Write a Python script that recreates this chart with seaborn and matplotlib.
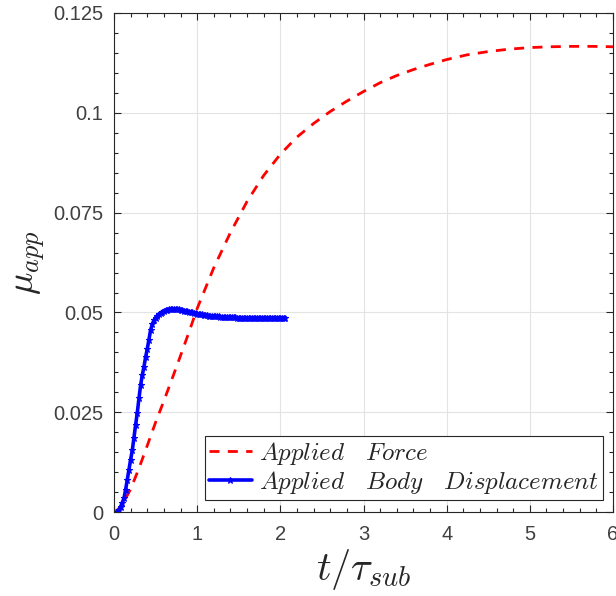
import numpy as np
import pandas as pd
import matplotlib
matplotlib.use("Agg")
import matplotlib.pyplot as plt
from matplotlib.ticker import MultipleLocator
import seaborn as sns

# --- Dados ---
# Força aplicada (linha tracejada vermelha)
t_force = [0.0, 0.05, 0.1, 0.2, 0.3, 0.4, 0.5, 0.6, 0.7, 0.8, 0.9, 1.0,
           1.2, 1.4, 1.6, 1.8, 2.0, 2.2, 2.4, 2.6, 2.8, 3.0, 3.2, 3.4,
           3.6, 3.8, 4.0, 4.25, 4.5, 4.75, 5.0, 5.25, 5.5, 5.75, 6.0]
mu_force = [0.0, 0.0008, 0.0019, 0.0058, 0.0110, 0.0167, 0.0225, 0.0279,
            0.0335, 0.0392, 0.0450, 0.0510, 0.0612, 0.0700, 0.0778,
            0.0843, 0.0896, 0.0939, 0.0973, 0.1003, 0.1029, 0.1053,
            0.1075, 0.1093, 0.1108, 0.1121, 0.1133, 0.1145, 0.1153,
            0.1159, 0.1163, 0.1165, 0.1166, 0.1166, 0.1165]

# Deslocamento aplicado ao corpo (linha azul com marcadores), passo 0.02
t_disp = np.round(np.arange(0.04, 2.061, 0.02), 2)
mu_disp = [0.0000, 0.0005, 0.0014, 0.0024, 0.0035, 0.0057, 0.0082, 0.0107,
           0.0132, 0.0155, 0.0187, 0.0219, 0.0249, 0.0285, 0.0318, 0.0343,
           0.0364, 0.0388, 0.0409, 0.0432, 0.0456, 0.0470, 0.0480, 0.0487,
           0.0492, 0.0496, 0.0499, 0.0502, 0.0504, 0.0506, 0.0507, 0.0508,
           0.0508, 0.0509, 0.0509, 0.0509, 0.0508, 0.0508, 0.0507, 0.0506,
           0.0505, 0.0504, 0.0503, 0.0502, 0.0501, 0.0500, 0.0499, 0.0498,
           0.0497, 0.0496, 0.0495, 0.0495, 0.0494, 0.0493, 0.0493, 0.0492,
           0.0492, 0.0491, 0.0491, 0.0490, 0.0490, 0.0490, 0.0489, 0.0489,
           0.0489, 0.0489, 0.0488, 0.0488, 0.0488, 0.0488, 0.0488, 0.0488,
           0.0487, 0.0487, 0.0487, 0.0487, 0.0487, 0.0487, 0.0487, 0.0487,
           0.0487, 0.0487, 0.0487, 0.0487, 0.0487, 0.0487, 0.0487, 0.0487,
           0.0487, 0.0487, 0.0487, 0.0487, 0.0487, 0.0487, 0.0487, 0.0487,
           0.0487, 0.0487, 0.0487, 0.0487, 0.0487, 0.0487]

x_ticks = [0, 1, 2, 3, 4, 5, 6]
y_ticks = [0, 0.025, 0.05, 0.075, 0.1, 0.125]
y_tick_labels = ["0", "0.025", "0.05", "0.075", "0.1", "0.125"]

label_force = r"$Applied\quad Force$"
label_disp = r"$Applied\quad Body\quad Displacement$"

df_force = pd.DataFrame({"t": t_force, "mu": mu_force})
df_disp = pd.DataFrame({"t": t_disp[:len(mu_disp)], "mu": mu_disp})

# --- Estilo ---
sns.set_style("ticks")
plt.rcParams["font.family"] = ["Liberation Sans", "DejaVu Sans"]
plt.rcParams["mathtext.fontset"] = "cm"

fig = plt.figure(figsize=(6.16, 5.96), dpi=100)
ax = fig.add_axes([114 / 616, 1 - 512.3 / 596, 499 / 616, 499.5 / 596])

sns.lineplot(data=df_force, x="t", y="mu", ax=ax, color="#ff0000",
             linewidth=2.0, dashes=False, label=label_force, sort=False)
ax.lines[-1].set_linestyle((0, (3.6, 3.0)))

sns.lineplot(data=df_disp, x="t", y="mu", ax=ax, color="#0000ff",
             linewidth=2.6, marker="*", markersize=4.5, markeredgewidth=0.8,
             markeredgecolor="#0000ff", label=label_disp, sort=False)

ax.set_xlim(0, 6)
ax.set_ylim(0, 0.125)
ax.set_xticks(x_ticks)
ax.set_yticks(y_ticks)
ax.set_yticklabels(y_tick_labels)
ax.xaxis.set_minor_locator(MultipleLocator(0.2))
ax.yaxis.set_minor_locator(MultipleLocator(0.005))
ax.tick_params(which="both", direction="in", top=True, right=True,
               colors="#262626", labelsize=14.5, width=0.8)
ax.tick_params(axis="x", which="major", pad=9)
ax.tick_params(axis="y", which="major", pad=8)
ax.tick_params(which="major", length=5)
ax.tick_params(which="minor", length=3)
for lab in ax.get_xticklabels() + ax.get_yticklabels():
    lab.set_color("#404040")
ax.grid(True, which="major", color="#e3e3e3", linewidth=0.8)
for side in ax.spines.values():
    side.set_color("#262626")
    side.set_linewidth(0.8)

ax.set_xlabel(r"$t/\tau_{sub}$", fontsize=29, color="#262626", labelpad=2)
ax.set_ylabel(r"$\mu_{app}$", fontsize=27, color="#262626", labelpad=4)

leg = ax.legend(loc="lower right", bbox_to_anchor=(0.98, 0.025),
                borderaxespad=0, fancybox=False, framealpha=1,
                edgecolor="#262626", fontsize=18, handlelength=1.7,
                handletextpad=0.3, borderpad=0.15, labelspacing=0.1)
leg.get_frame().set_linewidth(0.8)

fig.savefig("out.png", dpi=100)
plt.close(fig)
